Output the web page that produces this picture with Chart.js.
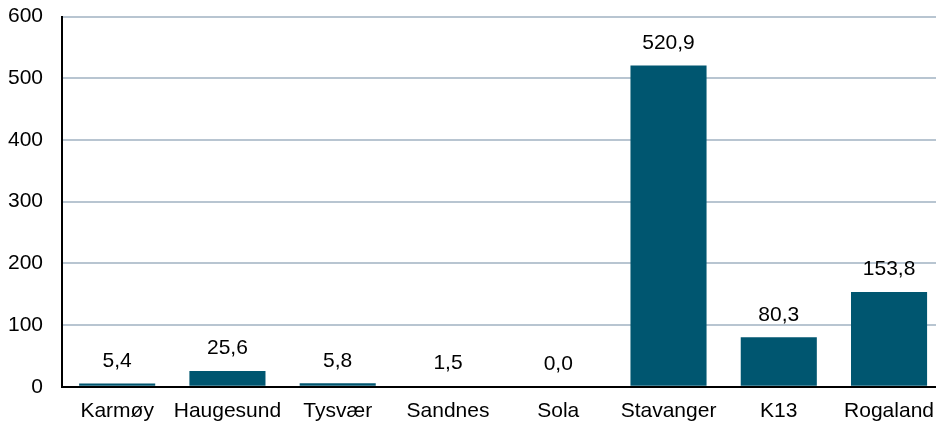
<!DOCTYPE html>
<html><head><meta charset="utf-8">
<script src="https://cdn.jsdelivr.net/npm/chart.js@4"></script>
<style>
html,body{margin:0;padding:0;background:#fff;overflow:hidden;}
#wrap{width:946px;height:441px;position:relative;margin-top:-15px;}
</style></head>
<body><div id="wrap"><canvas id="c"></canvas></div>
<script>
const categories = ["Karmøy","Haugesund","Tysvær","Sandnes","Sola","Stavanger","K13","Rogaland"];
const values = [5.4, 25.6, 5.8, 1.5, 0.0, 520.9, 80.3, 153.8];
const yTicks = [0,100,200,300,400,500,600];

const fontFamily = "'Liberation Sans', Arial, sans-serif";
const labelPlugin = {
  id: 'valueLabels',
  afterDatasetsDraw(chart) {
    const ctx = chart.ctx;
    const meta = chart.getDatasetMeta(0);
    ctx.save();
    ctx.font = "21px " + fontFamily;
    ctx.fillStyle = "#000";
    ctx.textAlign = "center";
    ctx.textBaseline = "bottom";
    meta.data.forEach((bar, i) => {
      ctx.fillText(values[i].toFixed(1).replace('.', ','), bar.x, bar.y - 12);
    });
    ctx.restore();
  }
};

new Chart(document.getElementById('c'), {
  type: 'bar',
  data: {
    labels: categories,
    datasets: [{ data: values, backgroundColor: '#005670', barPercentage: 0.69, categoryPercentage: 1.0 }]
  },
  options: {
    responsive: true, maintainAspectRatio: false, animation: false,
    layout: { padding: { top: -10, left: -11, right: 0, bottom: -10 } },
    plugins: { legend: { display: false }, tooltip: { enabled: false } },
    scales: {
      x: {
        grid: { display: false, drawTicks: false },
        border: { display: true, color: '#000', width: 2 },
        ticks: { color: '#000', font: { family: fontFamily, size: 21 }, padding: 12, maxRotation: 0 }
      },
      y: {
        min: 0, max: 600,
        afterBuildTicks(scale) { scale.ticks = yTicks.map(v => ({ value: v })); },
        grid: { color: '#B8C5D1', lineWidth: 2, drawTicks: false },
        border: { display: true, color: '#000', width: 2 },
        ticks: { color: '#000', font: { family: fontFamily, size: 21 }, padding: 19 }
      }
    }
  },
  plugins: [labelPlugin]
});
</script></body></html>
